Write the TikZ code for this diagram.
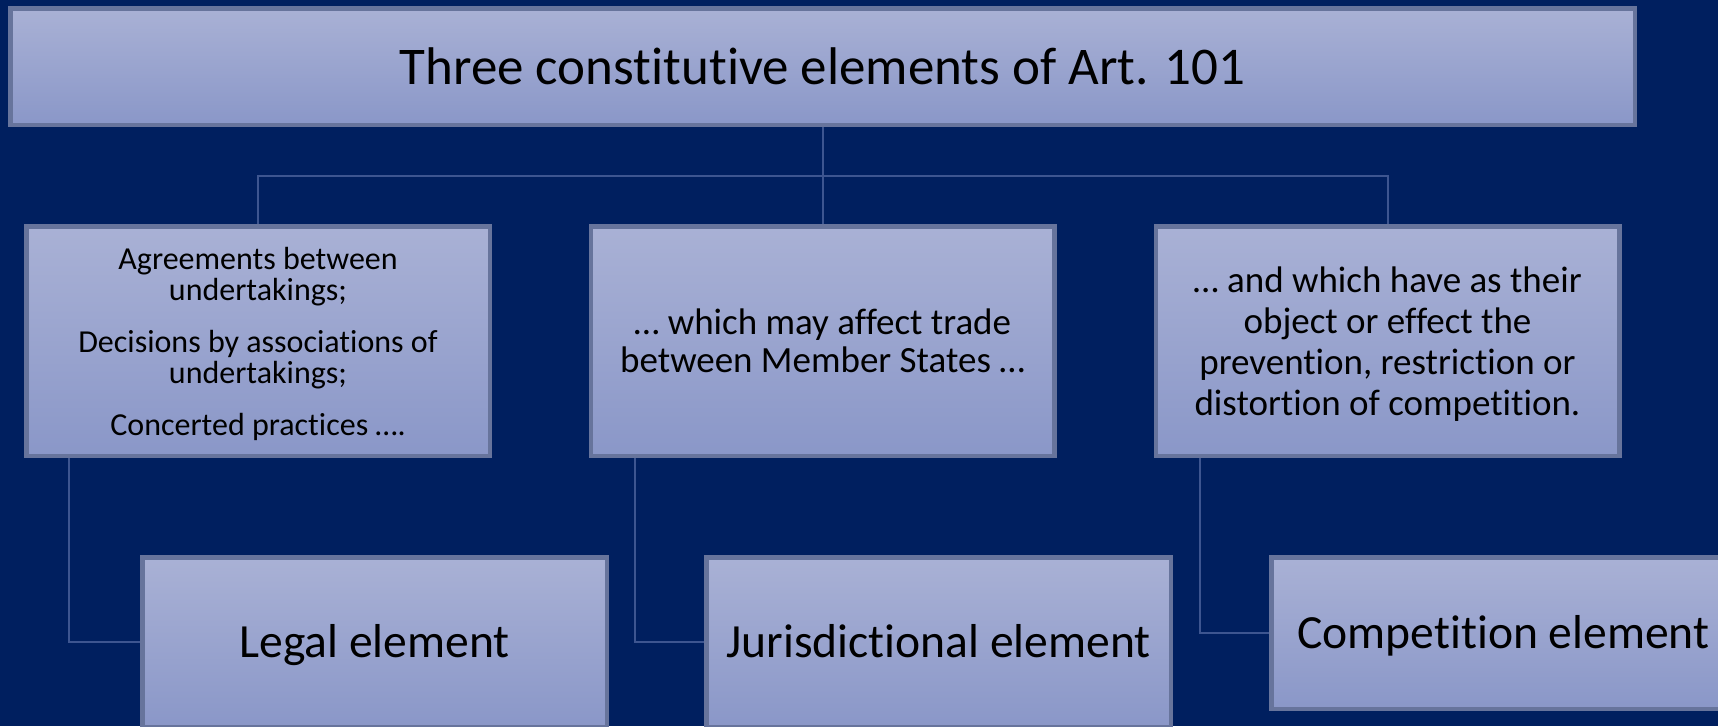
\documentclass[tikz,border=0pt]{standalone}
\usepackage{fontspec}
\setmainfont{Carlito}[Ligatures=CommonOff]
\definecolor{navy}{HTML}{001F5F}
\definecolor{boxtop}{HTML}{A9B1D5}
\definecolor{boxbot}{HTML}{8A97C8}
\definecolor{boxline}{HTML}{67749C}
\definecolor{linkblue}{HTML}{3D5590}

\begin{document}
\begin{tikzpicture}[x=1pt, y=-1pt,
     box/.style = {draw=boxline, line width=4.5pt,
                   top color=boxtop, bottom color=boxbot,
                   inner sep=0pt, align=center, text=black},
     mid/.style = {box, minimum width=463.5pt, minimum height=229.5pt},
     low/.style = {box, minimum width=464.5pt, minimum height=169.5pt,
                   text depth=3pt, font=\fontsize{47.6}{55}\selectfont},
    link/.style = {draw=linkblue, line width=2pt}
                    ]
\useasboundingbox (0,0) rectangle (1718,726);
\fill[navy] (0,0) rectangle (1718,726);
\clip (0,0) rectangle (1718,726);

% head of the tree
\node (art) [box, minimum width=1624.5pt, minimum height=116.5pt,
             font=\fontsize{53}{60}\selectfont] at (822.5,66.5)
      {Three constitutive elements of Art. 101};

% the three parts of the wording
\node (agree) [mid, text depth=0pt, font=\fontsize{32}{31}\selectfont] at (258,341)
      {Agreements between\\ undertakings;\\[21pt]
       Decisions by associations of\\ undertakings;\\[21pt]
       Concerted practices ….};
\node (trade) [mid, font=\fontsize{37}{38}\selectfont] at (822.5,341)
      {… which may affect trade\\ between Member States …};
\node (restrict) [mid, text depth=0pt, font=\fontsize{37}{41}\selectfont] at (1387.5,341)
      {… and which have as their\\ object or effect the\\
       prevention, restriction or\\ distortion of competition.};

% the elements
\node (legal)  [low] at (374.5,642) {Legal element};
\node (juris)  [low] at (938.5,642) {Jurisdictional element};
\node (compet) [low, minimum height=151.5pt] at (1503.5,633) {Competition element};

\coordinate (hub) at (822.5,176);
\draw[link] (art.south) -- (hub);
\draw[link] (agree.north) |- (hub) -| (restrict.north);
\draw[link] (hub) -- (trade.north);

\draw[link] ([xshift=45pt]agree.south west)    |- (legal.west);
\draw[link] ([xshift=46pt]trade.south west)    |- (juris.west);
\draw[link] ([xshift=46pt]restrict.south west) |- (compet.west);
\end{tikzpicture}
\end{document}
